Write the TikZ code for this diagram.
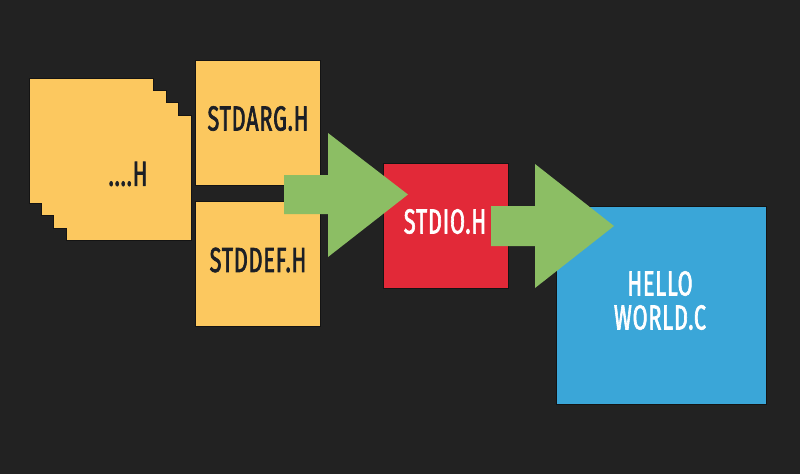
\documentclass[tikz,border=0pt]{standalone}
\usepackage{fontspec}
\newfontfamily\condfont[FakeStretch=0.62,FakeBold=1.8,LetterSpace=2.5]{Fira Sans}
\definecolor{bg}{RGB}{34,34,34}
\definecolor{hyellow}{RGB}{252,200,95}
\definecolor{hred}{RGB}{226,41,56}
\definecolor{hblue}{RGB}{58,166,216}
\definecolor{hgreen}{RGB}{140,190,100}
\definecolor{darktext}{RGB}{28,31,38}
\definecolor{edge}{RGB}{20,20,20}
\tikzset{
  filebox/.style={draw=edge, line width=0.8pt, minimum width=125pt, minimum height=125pt, inner sep=0pt},
  label/.style={inner sep=0pt, font=\condfont\fontsize{34.8}{34}\selectfont, align=center},
  blockarrow/.style={fill=hgreen, draw=none}
}
\begin{document}
\begin{tikzpicture}[x=1pt,y=-1pt]
\fill[bg] (0,0) rectangle (800,474);
\useasboundingbox (0,0) rectangle (800,474);
% stacked headers
\draw[fill=hyellow, draw=edge, line width=0.8pt]
  (29,78) -- (153,78) -- (153,90) -- (166,90) -- (166,102) -- (178,102) -- (178,115)
  -- (191,115) -- (191,240) -- (66,240) -- (66,228) -- (53,228) -- (53,215)
  -- (41,215) -- (41,203) -- (29,203) -- cycle;
\node[label, text=darktext] (dots) at (128,174) {....H};
% boxes
\node[filebox, fill=hyellow] (stdarg) at (258,123) {};
\node[label, text=darktext] (stdargt) at (258,118.5) {STDARG.H};
\node[filebox, fill=hyellow] (stddef) at (258,264) {};
\node[label, text=darktext] (stddeft) at (258,260) {STDDEF.H};
\node[filebox, fill=hred] (stdio) at (445.5,225.5) {};
\node[label, text=white] (stdiot) at (445,221.5) {STDIO.H};
\node[filebox, fill=hblue, minimum width=210pt, minimum height=198pt] (hello) at (661,305) {};
\node[label, text=white] (hellot) at (660,300.5) {HELLO\\WORLD.C};
% arrows
\fill[blockarrow] (284,175) -- (328,175) -- (328,133) -- (408,194.5) -- (328,257) -- (328,214) -- (284,214) -- cycle;
\fill[blockarrow] (491,206) -- (535,206) -- (535,164) -- (614,226) -- (535,288) -- (535,246) -- (491,246) -- cycle;
\end{tikzpicture}
\end{document}
